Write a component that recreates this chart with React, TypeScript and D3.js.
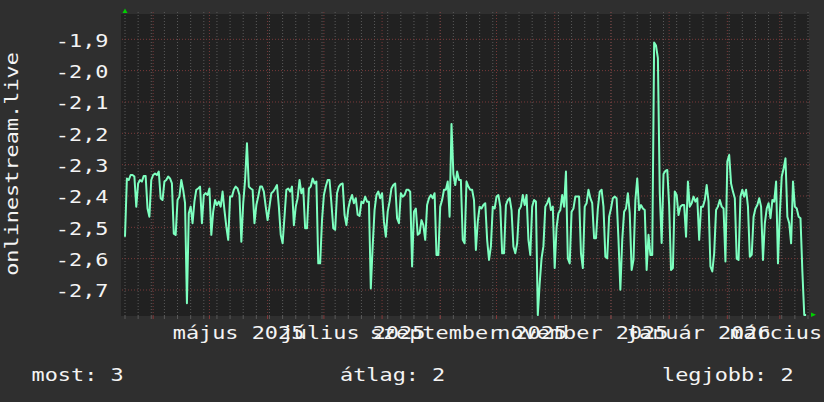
import React from "react";
import * as d3 from "d3";

const START = "2025-03-17";
const END = "2026-03-16";

// daily values (index 0 = START)
const values: number[] = [
  -2.53, -2.344, -2.349, -2.333, -2.333, -2.338, -2.434, -2.36, -2.349, -2.354,
  -2.336, -2.336, -2.44, -2.466, -2.349, -2.333, -2.328, -2.333, -2.322, -2.407,
  -2.413, -2.354, -2.349, -2.338, -2.344, -2.36, -2.52, -2.524, -2.413, -2.402,
  -2.349, -2.38, -2.423, -2.742, -2.455, -2.434, -2.487, -2.418, -2.38, -2.376,
  -2.37, -2.487, -2.397, -2.391, -2.397, -2.376, -2.524, -2.45, -2.413, -2.429,
  -2.418, -2.434, -2.386, -2.445, -2.498, -2.54, -2.402, -2.402, -2.38, -2.37,
  -2.376, -2.397, -2.546, -2.423, -2.349, -2.232, -2.37, -2.376, -2.38, -2.487,
  -2.429, -2.402, -2.37, -2.37, -2.386, -2.434, -2.477, -2.434, -2.391, -2.386,
  -2.376, -2.365, -2.434, -2.524, -2.551, -2.466, -2.38, -2.376, -2.386, -2.37,
  -2.493, -2.434, -2.407, -2.349, -2.391, -2.376, -2.503, -2.503, -2.376, -2.37,
  -2.344, -2.36, -2.354, -2.615, -2.615, -2.477, -2.397, -2.37, -2.349, -2.349,
  -2.423, -2.503, -2.508, -2.391, -2.37, -2.362, -2.36, -2.46, -2.493, -2.44,
  -2.413, -2.397, -2.423, -2.407, -2.46, -2.464, -2.418, -2.423, -2.402, -2.418,
  -2.418, -2.695, -2.56, -2.445, -2.397, -2.386, -2.407, -2.391, -2.482, -2.53,
  -2.45, -2.418, -2.376, -2.365, -2.36, -2.471, -2.487, -2.391, -2.402, -2.397,
  -2.38, -2.38, -2.386, -2.625, -2.45, -2.44, -2.524, -2.519, -2.477, -2.493,
  -2.54, -2.429, -2.407, -2.397, -2.407, -2.391, -2.588, -2.588, -2.434, -2.413,
  -2.38, -2.38, -2.354, -2.466, -2.17, -2.33, -2.365, -2.322, -2.349, -2.349,
  -2.54, -2.551, -2.354, -2.37, -2.38, -2.38, -2.413, -2.572, -2.482, -2.434,
  -2.44, -2.429, -2.423, -2.54, -2.604, -2.561, -2.434, -2.44, -2.402, -2.397,
  -2.434, -2.583, -2.583, -2.429, -2.413, -2.407, -2.445, -2.561, -2.583, -2.551,
  -2.445, -2.434, -2.397, -2.429, -2.397, -2.54, -2.588, -2.434, -2.413, -2.418,
  -2.78, -2.679, -2.599, -2.56, -2.434, -2.423, -2.407, -2.445, -2.434, -2.63,
  -2.5, -2.455, -2.445, -2.397, -2.434, -2.322, -2.599, -2.615, -2.45, -2.44,
  -2.402, -2.402, -2.402, -2.583, -2.63, -2.434, -2.423, -2.38, -2.407, -2.423,
  -2.535, -2.535, -2.44, -2.386, -2.38, -2.434, -2.594, -2.599, -2.466, -2.44,
  -2.407, -2.402, -2.407, -2.54, -2.699, -2.54, -2.45, -2.44, -2.391, -2.455,
  -2.636, -2.604, -2.413, -2.344, -2.445, -2.429, -2.44, -2.445, -2.636, -2.524,
  -2.588, -2.588, -1.91, -1.92, -1.96, -2.39, -2.55, -2.33, -2.32, -2.317,
  -2.43, -2.636, -2.63, -2.386, -2.397, -2.461, -2.434, -2.429, -2.429, -2.53,
  -2.354, -2.434, -2.423, -2.402, -2.418, -2.407, -2.54, -2.434, -2.434, -2.413,
  -2.365, -2.418, -2.625, -2.641, -2.583, -2.445, -2.434, -2.413, -2.434, -2.44,
  -2.609, -2.29, -2.269, -2.36, -2.386, -2.407, -2.6, -2.604, -2.402, -2.38,
  -2.402, -2.38, -2.434, -2.594, -2.588, -2.466, -2.44, -2.429, -2.407, -2.434,
  -2.604, -2.487, -2.44, -2.423, -2.471, -2.413, -2.418, -2.354, -2.615, -2.455,
  -2.338, -2.312, -2.28, -2.466, -2.487, -2.551, -2.354, -2.434, -2.44, -2.466,
  -2.471, -2.641, -2.78, -2.78,
];

const yTicks = [-1.9, -2.0, -2.1, -2.2, -2.3, -2.4, -2.5, -2.6, -2.7];
const yTickLabels = ["-1,9", "-2,0", "-2,1", "-2,2", "-2,3", "-2,4", "-2,5", "-2,6", "-2,7"];
const monthLabelStarts = ["2025-05-01", "2025-07-01", "2025-09-01", "2025-11-01", "2026-01-01", "2026-03-01"];
const monthLabelTexts = ["május 2025", "július 2025", "szeptember 2025", "november 2025", "január 2026", "március 2026"];
const legendTexts = ["most: 3", "átlag: 2", "legjobb: 2"];
const yTitle = "onlinestream.live";

const W = 824;
const H = 402;
const PL = 125, PR = 808, PT = 14, PB = 316;
const FONT = "'DejaVu Sans Mono', monospace";
const SX = 1.215;
const TEXT = "#f4f4f4";

export default function App() {
  const parse = d3.utcParse("%Y-%m-%d");
  const start = parse(START)!;
  const end = parse(END)!;
  const x = d3.scaleUtc().domain([start, end]).range([PL, PR]);
  const y = d3.scaleLinear().domain([-1.9, -2.7]).range([39.3, 290]);

  const data = values.map((v, i) => ({ date: d3.utcDay.offset(start, i), v }));
  const line = d3
    .line<{ date: Date; v: number }>()
    .x((d) => x(d.date))
    .y((d) => y(d.v));

  const weeks = d3.utcMonday.range(start, d3.utcDay.offset(end, 1));
  const months = d3.utcMonth.range(d3.utcDay.offset(start, 1), end);

  const labelPos = monthLabelStarts.map((s) => {
    const m = parse(s)!;
    const n = d3.utcMonth.offset(m, 1);
    return (x(m) + x(n)) / 2;
  });

  const legendX = [31.5, 340, 662];

  return (
    <svg width={W} height={H} style={{ position: "absolute", left: 0, top: 0, display: "block" }}>
      <rect x={0} y={0} width={W} height={H} fill="#2f2f2f" />
      <rect x={121} y={PT} width={809 - 121} height={PB - PT} fill="#212121" />

      {/* weekly grid */}
      {weeks.map((w, i) => (
        <g key={"w" + i}>
          <line x1={x(w)} x2={x(w)} y1={12} y2={PB} stroke="#5a5a5a" strokeWidth={1} strokeDasharray="1,2" />
          <line x1={x(w)} x2={x(w)} y1={PB} y2={PB + 3} stroke="#5a5a5a" strokeWidth={1} />
        </g>
      ))}
      {/* monthly grid */}
      {months.map((m, i) => (
        <g key={"m" + i}>
          <line x1={x(m)} x2={x(m)} y1={12} y2={PB} stroke="#7a3a3a" strokeWidth={1} strokeDasharray="1,2" />
          <line x1={x(m)} x2={x(m)} y1={PB} y2={PB + 3} stroke="#8a3a3a" strokeWidth={1} />
        </g>
      ))}
      {/* horizontal grid */}
      {yTicks.map((t, i) => (
        <line key={"h" + i} x1={122} x2={811} y1={y(t)} y2={y(t)} stroke="#7a3a3a" strokeWidth={1} strokeDasharray="1,2" />
      ))}

      {/* data line */}
      <path d={line(data) || ""} fill="none" stroke="#7dffbf" strokeWidth={2} strokeLinejoin="round" />

      {/* arrows */}
      <path d="M122.5,13 L125,8.5 L127.5,13 Z" fill="#00d000" />
      <path d="M811,312.5 L816,314.8 L811,317 Z" fill="#00d000" />

      {/* y tick labels */}
      {yTickLabels.map((s, i) => (
        <g key={"yl" + i} transform={`translate(108.5,${y(yTicks[i]) + 7.3}) scale(${SX},1)`}>
          <text x={0} y={0} textAnchor="end" fontFamily={FONT} fontSize={18} fill={TEXT}>
            {s}
          </text>
        </g>
      ))}

      {/* x labels */}
      {monthLabelTexts.map((s, i) => (
        <g key={"xl" + i} transform={`translate(${labelPos[i]},338.5) scale(${SX},1)`}>
          <text x={0} y={0} textAnchor="middle" fontFamily={FONT} fontSize={18} fill={TEXT}>
            {s}
          </text>
        </g>
      ))}

      {/* y title */}
      <g transform={`translate(18.3,164) rotate(-90) scale(${SX},1)`}>
        <text x={0} y={0} textAnchor="middle" fontFamily={FONT} fontSize={18} fill={TEXT}>
          {yTitle}
        </text>
      </g>

      {/* legend */}
      {legendTexts.map((s, i) => (
        <g key={"lg" + i} transform={`translate(${legendX[i]},381) scale(${SX},1)`}>
          <text x={0} y={0} fontFamily={FONT} fontSize={18} fill={TEXT}>
            {s}
          </text>
        </g>
      ))}
    </svg>
  );
}
